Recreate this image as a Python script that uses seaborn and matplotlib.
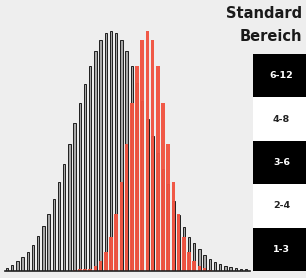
import numpy as np
import pandas as pd
import matplotlib
matplotlib.use("Agg")
import matplotlib.pyplot as plt
import seaborn as sns

# Balkenhoehen (gelesen aus dem Bild), 47 Klassen
breit = [2.7, 6, 10, 14, 19.3, 26, 34.7, 45, 57.3, 72, 89, 107.3, 127, 147.7,
         168.3, 187.3, 205, 220, 230.7, 238.3, 240.3, 238.3, 230.7, 220, 205,
         188, 170, 152, 135, 118, 102, 87, 70, 56, 44.3, 34, 28, 22, 16, 12,
         8.7, 6.7, 4.7, 4, 3, 2.3, 1.7]
schmal = [0, 0, 0, 0, 0, 0, 0, 0, 0, 0, 0, 0, 0, 1, 1.7, 2, 2.3, 5.3, 10,
          19.3, 34.3, 57.3, 89, 127, 168.3, 205, 231, 240.3, 231, 205, 168.3,
          127, 89, 57.3, 34.3, 19.3, 10, 5.3, 3, 1.3, 0, 0, 0, 0, 0, 0, 0]

bereiche = ["1-3", "2-4", "3-6", "4-8", "6-12"]
titel = ["Standard", "Bereich"]

bg = "#eeeeee"
rot = "#f15340"

df = pd.DataFrame({"klasse": np.arange(len(breit)), "breit": breit, "schmal": schmal})

fig = plt.figure(figsize=(3.06, 2.78), dpi=100)
fig.patch.set_facecolor(bg)

W, H = 306, 278
ax = fig.add_axes([4.7 / W, 7 / H, 245.3 / W, 251 / H])
ax.set_facecolor(bg)

sns.barplot(data=df, x="klasse", y="breit", ax=ax, color="#a8a8a8",
            edgecolor="#1e1e1e", linewidth=0.7, width=0.46, saturation=1, zorder=2)
sns.barplot(data=df, x="klasse", y="schmal", ax=ax, color=rot,
            linewidth=0, width=0.72, saturation=1, alpha=0.96, zorder=3)

ax.set_xlim(-0.44, 46.73)
ax.set_ylim(0, 251)
ax.set_xticks([])
ax.set_yticks([])
ax.set_xlabel("")
ax.set_ylabel("")
for s in ["top", "right", "left"]:
    ax.spines[s].set_visible(False)
ax.spines["bottom"].set_color("#222222")
ax.spines["bottom"].set_linewidth(1.2)
ax.spines["bottom"].set_zorder(4)

# Legende rechts
lg = fig.add_axes([252.7 / W, 7 / H, 53.3 / W, 217 / H])
farben = ["black", "white", "black", "white", "black"]
lg.barh(np.arange(len(bereiche)), 1, height=1, color=farben, linewidth=0)
lg.set_xlim(0, 1)
lg.set_ylim(-0.5, len(bereiche) - 0.5)
lg.axis("off")
for i, b in enumerate(bereiche):
    lg.text(0.54, i, b, ha="center", va="center", fontsize=6.8,
            fontweight="bold", color="white" if farben[i] == "black" else "#222222")

fig.text(302 / W, 1 - 13 / H, titel[0], ha="right", va="center",
         fontsize=10.5, fontweight="bold", color="#1a1a1a")
fig.text(302 / W, 1 - 36.5 / H, titel[1], ha="right", va="center",
         fontsize=10.5, fontweight="bold", color="#1a1a1a")

fig.savefig("out.png", dpi=100, facecolor=bg)
